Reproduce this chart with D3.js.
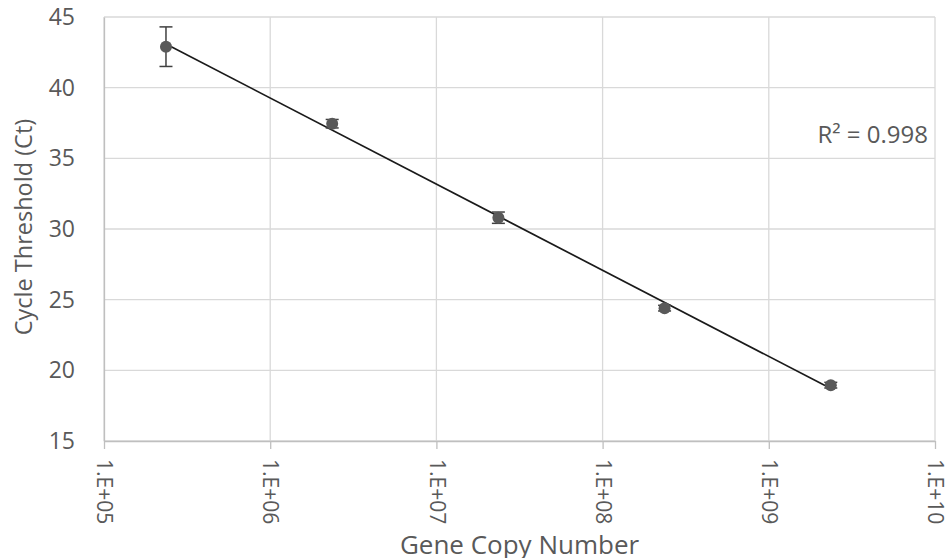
<!DOCTYPE html>
<html><head><meta charset="utf-8">
<script src="https://cdn.jsdelivr.net/npm/d3@7"></script>
<style>body{margin:0;background:#fff;} text{font-family:"Open Sans","Noto Sans",sans-serif;}</style>
</head><body>
<svg id="c" width="945" height="558"></svg>
<script>
const copies = [2.36e5, 2.36e6, 2.36e7, 2.36e8, 2.36e9];
const ct = [42.9, 37.45, 30.8, 24.4, 18.95];
const ctErr = [1.4, 0.3, 0.4, 0.2, 0.2];
const xTicks = [1e5, 1e6, 1e7, 1e8, 1e9, 1e10];
const xTickLabels = ["1.E+05","1.E+06","1.E+07","1.E+08","1.E+09","1.E+10"];
const yTicks = [15, 20, 25, 30, 35, 40, 45];
const r2Label = "R² = 0.998";

const svg = d3.select("#c");
const m = {l:104, r:10, t:17, b:117};
const W = 945, H = 558;
const x = d3.scaleLog().domain([1e5, 1e10]).range([m.l, W - m.r]);
const y = d3.scaleLinear().domain([15, 45]).range([H - m.b, m.t]);

// grid
svg.append("g").selectAll("line").data(yTicks).join("line")
  .attr("x1", m.l).attr("x2", W - m.r).attr("y1", d => y(d)).attr("y2", d => y(d))
  .attr("stroke", "#d9d9d9").attr("stroke-width", 1.3);
svg.append("g").selectAll("line").data(xTicks).join("line")
  .attr("x1", d => x(d)).attr("x2", d => x(d)).attr("y1", m.t).attr("y2", H - m.b)
  .attr("stroke", "#d9d9d9").attr("stroke-width", 1.3);

// x axis
const xa = svg.append("g").attr("transform", `translate(0,${H - m.b})`)
  .call(d3.axisBottom(x).tickValues(xTicks).tickFormat((d,i) => xTickLabels[i]).tickSize(8).tickSizeOuter(0));
xa.select(".domain").attr("stroke", "#bfbfbf").attr("stroke-width", 1.3);
xa.selectAll(".tick line").attr("stroke", "#bfbfbf").attr("stroke-width", 1.3);
xa.selectAll(".tick text")
  .attr("transform", "rotate(90)").attr("x", 18).attr("y", 0).attr("dy", "0.35em")
  .attr("text-anchor", "start").attr("fill", "#595959").style("font-size", "21px");

// y axis
const ya = svg.append("g").attr("transform", `translate(${m.l},0)`)
  .call(d3.axisLeft(y).tickValues(yTicks).tickSize(0).tickPadding(29));
ya.select(".domain").attr("stroke", "#bfbfbf").attr("stroke-width", 1.3);
ya.selectAll(".tick text").attr("fill", "#595959").style("font-size", "23px");

// titles
svg.append("text").attr("transform", `translate(32,${(m.t + H - m.b)/2 - 2}) rotate(-90)`)
  .attr("text-anchor", "middle").attr("fill", "#595959").style("font-size", "23.5px")
  .text("Cycle Threshold (Ct)");
svg.append("text").attr("x", (m.l + W - m.r)/2).attr("y", 554)
  .attr("text-anchor", "middle").attr("fill", "#595959").style("font-size", "26px")
  .text("Gene Copy Number");

// regression on log10(x)
const lx = copies.map(Math.log10);
const n = lx.length;
const mx = d3.mean(lx), my = d3.mean(ct);
const slope = d3.sum(lx.map((v,i) => (v-mx)*(ct[i]-my))) / d3.sum(lx.map(v => (v-mx)**2));
const icpt = my - slope*mx;
const ends = [copies[0], copies[n-1]];
svg.append("line")
  .attr("x1", x(ends[0])).attr("y1", y(icpt + slope*Math.log10(ends[0])))
  .attr("x2", x(ends[1])).attr("y2", y(icpt + slope*Math.log10(ends[1])))
  .attr("stroke", "#1a1a1a").attr("stroke-width", 1.7);

// error bars
const eb = svg.append("g").attr("stroke", "#404040").attr("stroke-width", 1.5);
copies.forEach((c,i) => {
  const cx = x(c);
  eb.append("line").attr("x1", cx).attr("x2", cx).attr("y1", y(ct[i]+ctErr[i])).attr("y2", y(ct[i]-ctErr[i]));
  [ct[i]+ctErr[i], ct[i]-ctErr[i]].forEach(v =>
    eb.append("line").attr("x1", cx-6.5).attr("x2", cx+6.5).attr("y1", y(v)).attr("y2", y(v)));
});

// points
svg.append("g").selectAll("circle").data(copies).join("circle")
  .attr("cx", d => x(d)).attr("cy", (d,i) => y(ct[i])).attr("r", 6)
  .attr("fill", "#595959");

// R2
svg.append("text").attr("x", 928).attr("y", 143).attr("text-anchor", "end")
  .attr("fill", "#595959").style("font-size", "24px").text(r2Label);
</script>
</body></html>
